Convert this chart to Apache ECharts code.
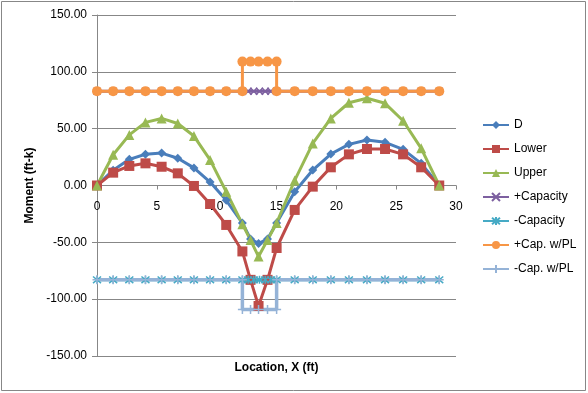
<!DOCTYPE html>
<html>
<head>
<meta charset="utf-8">
<script src="https://cdn.jsdelivr.net/npm/echarts@6/dist/echarts.min.js"></script>
<style>
html,body{margin:0;padding:0;background:#fff;}
#c{width:588px;height:393px;}
</style>
</head>
<body>
<div id="c"></div>
<script>
// Location grid (ft)
var xMain = [0, 1.35, 2.7, 4.05, 5.4, 6.75, 8.1, 9.45, 10.8, 12.15, 12.83, 13.5, 14.25, 15.01, 16.52, 18.03, 19.54, 21.05, 22.56, 24.07, 25.58, 27.09, 28.6];
var dVals     = [0, 13.5, 23, 27.5, 28.5, 24, 15.5, 3, -13, -33, -47, -51, -47, -33, -5.5, 13.6, 27.7, 36.2, 40, 38, 31.8, 19.5, 0];
var lowerVals = [0, 11.3, 17.2, 19.5, 16.5, 10.7, -0.4, -16.3, -34.7, -58, -83, -106, -83, -55, -21.5, -1, 16, 27.4, 32.1, 32.1, 27.4, 16, 0];
var upperVals = [0, 27, 44.5, 55.5, 59, 54.5, 43.5, 22.5, -5.5, -34, -48, -62.5, -48, -33, 4.5, 37, 59, 72.8, 76.7, 72.3, 57, 32.7, 0];

var capX = [0, 1.35, 2.7, 4.05, 5.4, 6.75, 8.1, 9.45, 10.8, 12.15, 12.63, 13.1, 13.58, 14.06, 14.53, 15.01, 16.52, 18.03, 19.54, 21.05, 22.56, 24.07, 25.58, 27.09, 28.6];
var posCapVals = [83, 83, 83, 83, 83, 83, 83, 83, 83, 83, 83, 83, 83, 83, 83, 83, 83, 83, 83, 83, 83, 83, 83, 83, 83];
var negCapVals = [-83, -83, -83, -83, -83, -83, -83, -83, -83, -83, -83, -83, -83, -83, -83, -83, -83, -83, -83, -83, -83, -83, -83, -83, -83];

var plX = [0, 1.35, 2.7, 4.05, 5.4, 6.75, 8.1, 9.45, 10.8, 12.15, 12.15, 12.83, 13.5, 14.25, 15.01, 15.01, 16.52, 18.03, 19.54, 21.05, 22.56, 24.07, 25.58, 27.09, 28.6];
var posPLVals = [83, 83, 83, 83, 83, 83, 83, 83, 83, 83, 109, 109, 109, 109, 109, 83, 83, 83, 83, 83, 83, 83, 83, 83, 83];
var negPLVals = [-83, -83, -83, -83, -83, -83, -83, -83, -83, -83, -109, -109, -109, -109, -109, -83, -83, -83, -83, -83, -83, -83, -83, -83, -83];

var seriesNames = ['D', 'Lower', 'Upper', '+Capacity', '-Capacity', '+Cap. w/PL', '-Cap. w/PL'];
var xTicks = {min: 0, max: 30, interval: 5};
var yTicks = {min: -150, max: 150, interval: 50};

function pairs(xs, ys) { return xs.map(function (x, i) { return [x, ys[i]]; }); }

var FONT = 'Liberation Sans';
var symX = 'path://M0,0L10,10M10,0L0,10';
var symAst = 'path://M0,0L10,10M10,0L0,10M5,-1L5,11';
var symPlus = 'path://M5,0L5,10M0,5L10,5';

function mk(name, data, color, symbol, size, stroked, lw) {
  return {
    name: name, type: 'line', data: data,
    symbol: symbol, symbolSize: size, showAllSymbol: true,
    lineStyle: {color: color, width: lw || 3},
    itemStyle: stroked ? {color: color, borderColor: color, borderWidth: 1.5} : {color: color, borderWidth: 0},
    emphasis: {disabled: true}
  };
}

var GRID_TOP = 15, GRID_BOTTOM = 37, H = 393;
var plotH = H - GRID_TOP - GRID_BOTTOM;
// place the x axis where y = 0 (middle of symmetric range)
var zeroOffset = -plotH * (0 - yTicks.min) / (yTicks.max - yTicks.min);

var chart = echarts.init(document.getElementById('c'), null, {renderer: 'canvas'});
chart.setOption({
  animation: false,
  backgroundColor: '#fff',
  textStyle: {fontFamily: FONT},
  graphic: [{
    type: 'rect', shape: {x: 1.5, y: 1.5, width: 584, height: 389},
    style: {fill: 'none', stroke: '#878787', lineWidth: 1}, silent: true, z: -1
  }],
  grid: {left: 97, right: 132, top: GRID_TOP, bottom: GRID_BOTTOM, containLabel: false, outerBoundsMode: 'none'},
  legend: {
    orient: 'vertical', left: 482, top: 118, padding: 0,
    itemWidth: 26, itemHeight: 10, itemGap: 10,
    textStyle: {fontFamily: FONT, fontSize: 12, color: '#000', lineHeight: 14},
    data: seriesNames
  },
  xAxis: {
    type: 'value', min: xTicks.min, max: xTicks.max, interval: xTicks.interval,
    position: 'bottom', offset: zeroOffset,
    name: 'Location, X (ft)', nameLocation: 'middle', nameGap: 176,
    nameTextStyle: {fontFamily: FONT, fontSize: 12, fontWeight: 'bold', color: '#000'},
    axisLine: {onZero: false, lineStyle: {color: '#878787', width: 1}},
    axisTick: {show: true, length: 4, lineStyle: {color: '#878787'}},
    axisLabel: {fontFamily: FONT, fontSize: 12, color: '#000', margin: 15},
    splitLine: {show: false}
  },
  yAxis: {
    type: 'value', min: yTicks.min, max: yTicks.max, interval: yTicks.interval,
    name: 'Moment (ft-k)', nameLocation: 'middle', nameGap: 60, nameRotate: 90,
    nameTextStyle: {fontFamily: FONT, fontSize: 12, fontWeight: 'bold', color: '#000'},
    axisLine: {show: true, onZero: false, lineStyle: {color: '#878787', width: 1}},
    axisTick: {show: true, length: 5, lineStyle: {color: '#878787'}},
    axisLabel: {fontFamily: FONT, fontSize: 12, color: '#000', margin: 10,
      formatter: function (v) { return v.toFixed(2); }},
    splitLine: {show: true, lineStyle: {color: '#878787', width: 1}}
  },
  series: [
    mk('D', pairs(xMain, dVals), '#4A7EBB', 'diamond', 9, false),
    mk('Lower', pairs(xMain, lowerVals), '#BE4B48', 'rect', 10, false),
    mk('Upper', pairs(xMain, upperVals), '#98B954', 'triangle', 10, false),
    mk('+Capacity', pairs(capX, posCapVals), '#7D60A0', symX, 7, true),
    mk('-Capacity', pairs(capX, negCapVals), '#46AAC5', symAst, 8, true),
    mk('+Cap. w/PL', pairs(plX, posPLVals), '#F79646', 'circle', 10, false),
    mk('-Cap. w/PL', pairs(plX, negPLVals), '#95B3D7', symPlus, 9, true, 3.5)
  ]
});
</script>
</body>
</html>
